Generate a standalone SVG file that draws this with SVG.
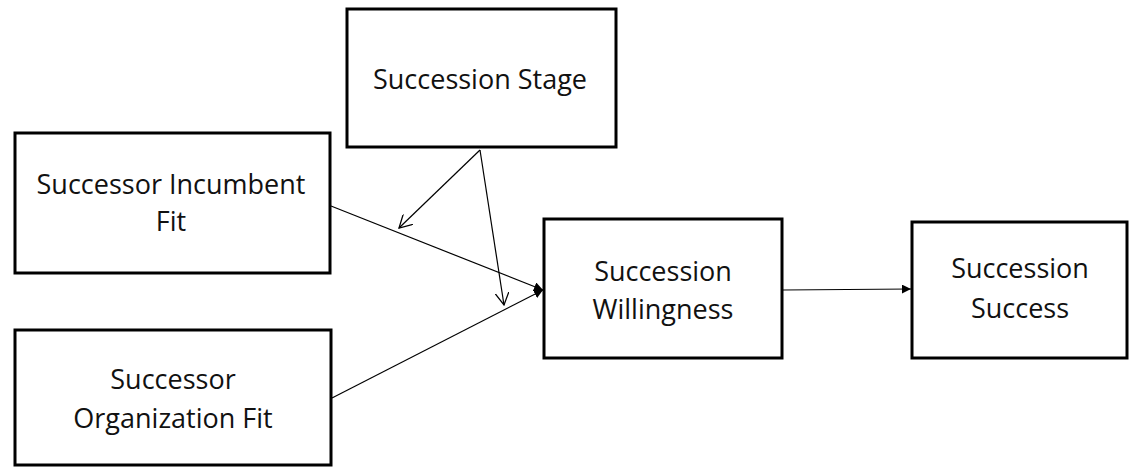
<svg xmlns="http://www.w3.org/2000/svg" width="1133" height="468" viewBox="0 0 1133 468">
<style>
.box{fill:#fff;stroke:#000;stroke-width:3}
.t{font-family:"Open Sans","Liberation Sans",sans-serif;font-size:27px;fill:#111;text-anchor:middle}
.c{stroke:#000;stroke-width:1.2;fill:none}
</style>
<defs>
<marker id="fill" viewBox="0 0 10 10" refX="10" refY="5" markerWidth="9" markerHeight="9" markerUnits="userSpaceOnUse" orient="auto"><path d="M0,0 L10,5 L0,10 z" fill="#000"/></marker>
<marker id="open" viewBox="0 0 10 10" refX="9" refY="5" markerWidth="14" markerHeight="14" markerUnits="userSpaceOnUse" orient="auto"><path d="M0,0 L9,5 L0,10" fill="none" stroke="#000" stroke-width="0.9"/></marker>
</defs>
<rect width="1133" height="468" fill="#fff"/>
<g id="connectors">
<line class="c" x1="331" y1="206" x2="543" y2="290" marker-end="url(#fill)"/>
<line class="c" x1="332" y1="398" x2="543" y2="290" marker-end="url(#fill)"/>
<line class="c" x1="480" y1="150" x2="399" y2="228" marker-end="url(#open)"/>
<line class="c" x1="480" y1="150" x2="504" y2="305" marker-end="url(#open)"/>
<line class="c" x1="783" y1="290" x2="911" y2="289" marker-end="url(#fill)"/>
</g>
<g id="succession-stage">
<rect class="box" x="347" y="9" width="269" height="138"/>
<text class="t" x="480" y="89">Succession Stage</text>
</g>
<g id="successor-incumbent-fit">
<rect class="box" x="15" y="133" width="315" height="140"/>
<text class="t" x="171" y="194">Successor Incumbent</text>
<text class="t" x="171" y="231">Fit</text>
</g>
<g id="successor-organization-fit">
<rect class="box" x="15" y="330" width="316" height="135"/>
<text class="t" x="173" y="389">Successor</text>
<text class="t" x="173" y="428">Organization Fit</text>
</g>
<g id="succession-willingness">
<rect class="box" x="544" y="219" width="238" height="139"/>
<text class="t" x="663" y="281">Succession</text>
<text class="t" x="663" y="319">Willingness</text>
</g>
<g id="succession-success">
<rect class="box" x="912" y="222" width="215" height="136"/>
<text class="t" x="1020" y="278">Succession</text>
<text class="t" x="1020" y="318">Success</text>
</g>
</svg>
